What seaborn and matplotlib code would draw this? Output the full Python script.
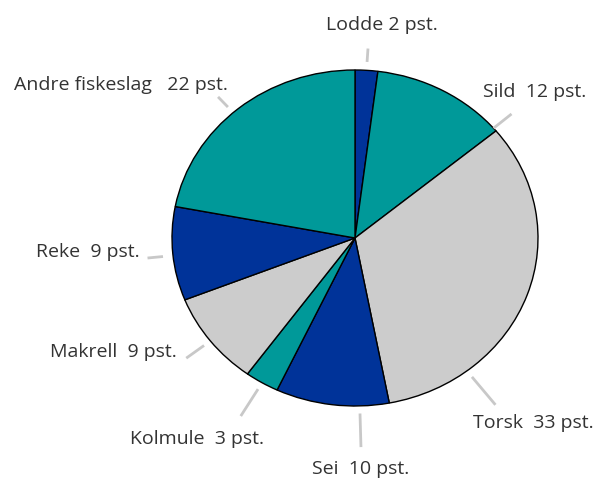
import matplotlib
matplotlib.use("Agg")
import matplotlib.pyplot as plt
import seaborn as sns
import numpy as np

# =========================
# Data
# =========================
fish = ["Lodde", "Sild", "Torsk", "Sei", "Kolmule", "Makrell", "Reke", "Andre fiskeslag"]
share = [2, 12, 33, 10, 3, 9, 9, 22]
labels = ["Lodde 2 pst.", "Sild  12 pst.", "Torsk  33 pst.", "Sei  10 pst.",
          "Kolmule  3 pst.", "Makrell  9 pst.", "Reke  9 pst.", "Andre fiskeslag   22 pst."]

sns.set_theme(style="white")
plt.rcParams["font.family"] = ["Open Sans", "DejaVu Sans"]

blue, teal, grey = "#003399", "#009999", "#cccccc"
colors = [blue, teal, grey, blue, teal, grey, blue, teal]

fig = plt.figure(figsize=(5.97, 4.78), dpi=100)
ax = fig.add_axes([0, 0, 1, 1])

ax.pie(share, colors=colors, startangle=90, counterclock=False,
       wedgeprops=dict(edgecolor="black", linewidth=1))

# pixel layout: centre (355, 238), radii 183 x 168
cx, cy, rx, ry = 355, 238, 183, 168
ax.set_aspect("auto")
ax.set_xlim(-cx / rx, (597 - cx) / rx)
ax.set_ylim(-(478 - cy) / ry, cy / ry)
ax.axis("off")

def to_data(px, py):
    return (px - cx) / rx, (cy - py) / ry

# leader lines: (angle deg, r start, r end)
leaders = [(86.4, 1.05, 1.13), (40.8, 1.00, 1.13), (-52.3, 1.045, 1.255),
           (-88.5, 1.045, 1.245), (-120.5, 1.044, 1.23), (-142.2, 1.044, 1.167),
           (-174.0, 1.055, 1.14), (131.7, 1.044, 1.125)]
# label anchors in pixels: (x, y, ha)
anchors = [(382, 25, "center"), (483, 92, "left"), (473, 423, "left"),
           (361, 469, "center"), (130, 439, "left"), (177, 352, "right"),
           (140, 252, "right"), (228, 85, "right")]

for lab, (ang, r0, r1), (px, py, ha) in zip(labels, leaders, anchors):
    a = np.deg2rad(ang)
    ax.plot([r0 * np.cos(a), r1 * np.cos(a)], [r0 * np.sin(a), r1 * np.sin(a)],
            color="#c8c8c8", linewidth=2, solid_capstyle="butt", clip_on=False)
    x, y = to_data(px, py)
    ax.text(x, y, lab, ha=ha, va="center", fontsize=14, color="#333333")

fig.savefig("out.png", dpi=100)
